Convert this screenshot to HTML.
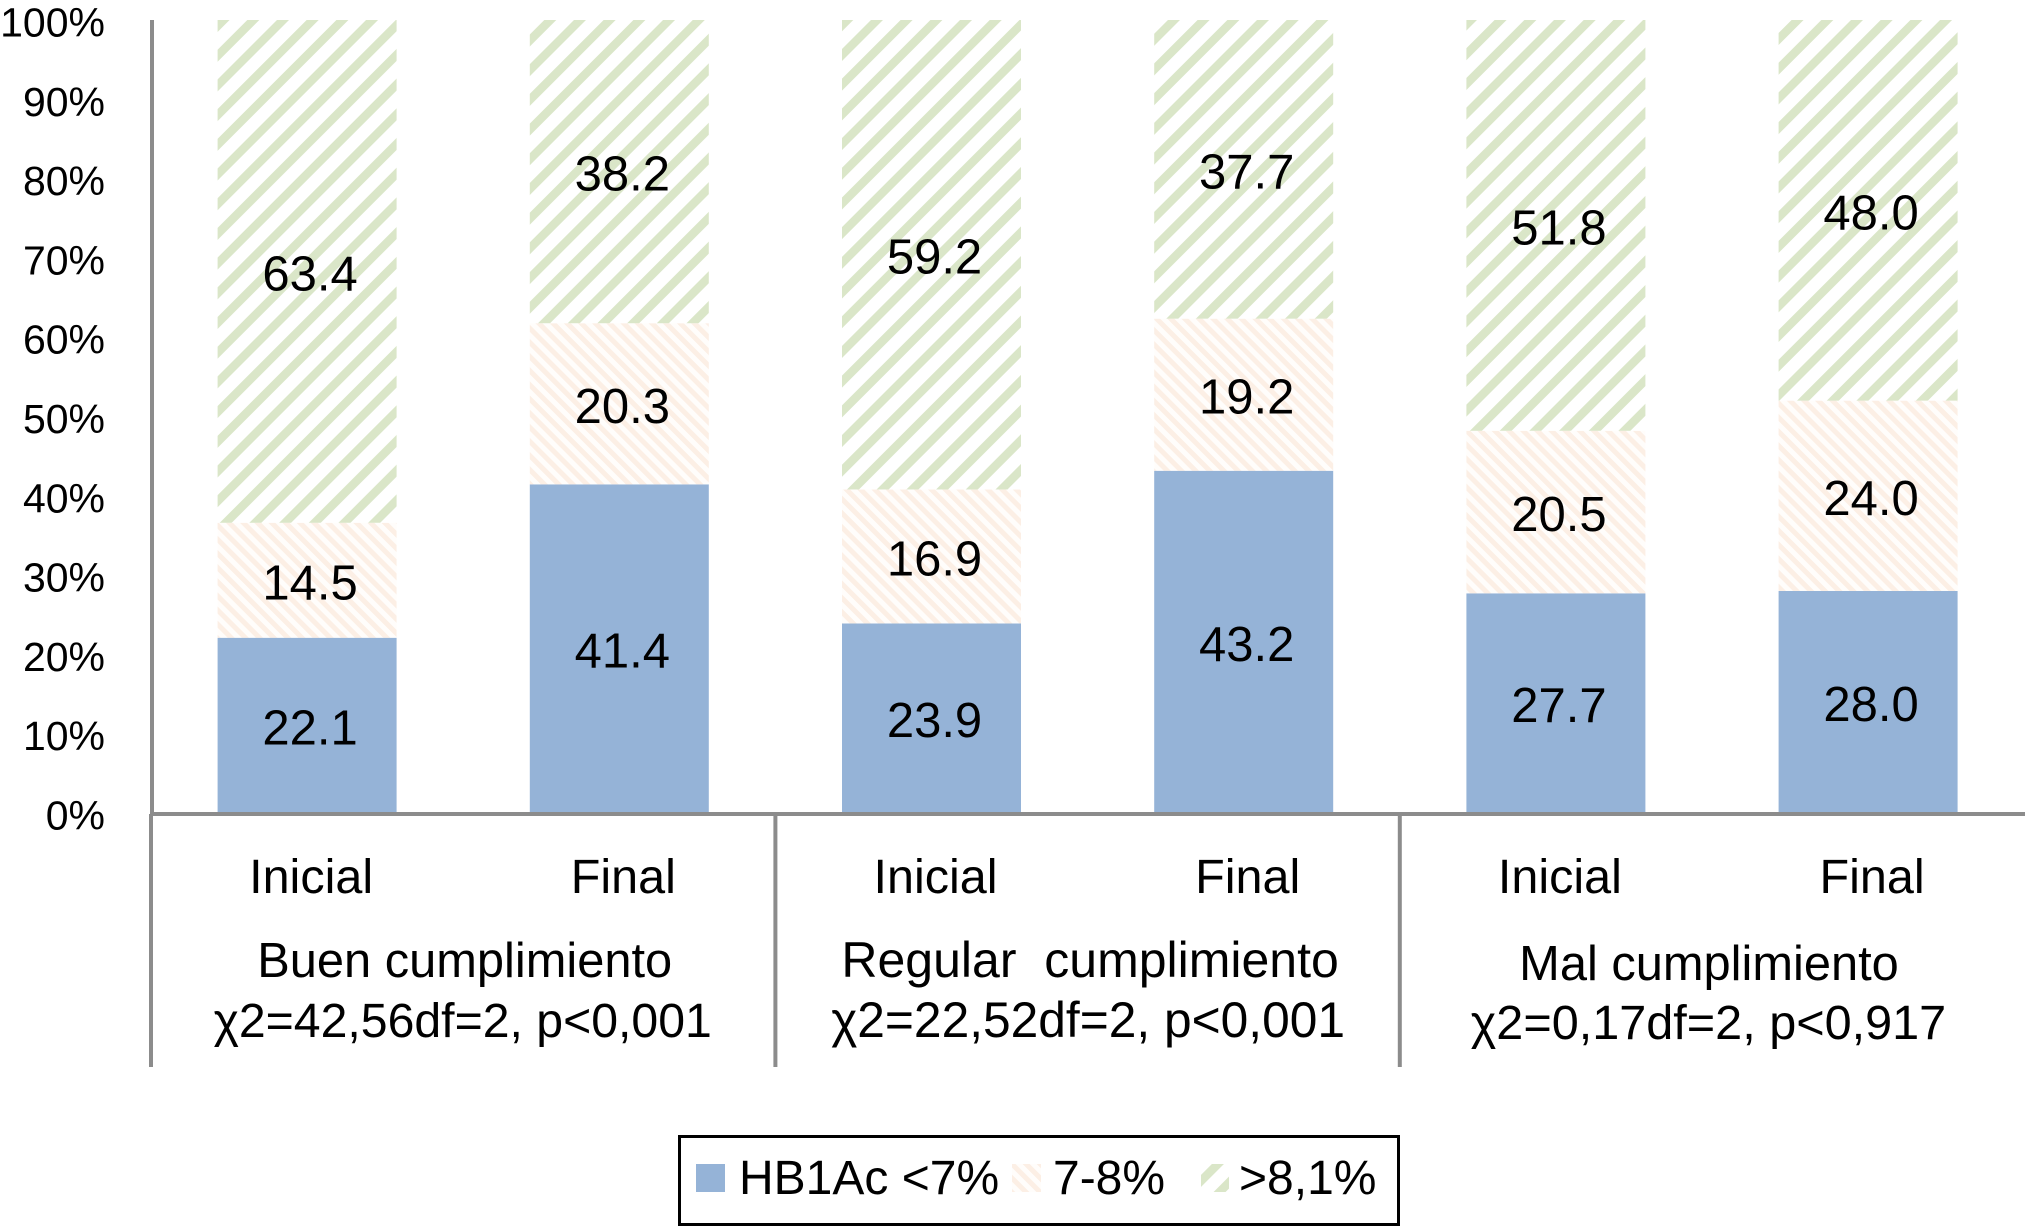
<!DOCTYPE html>
<html lang="es">
<head>
<meta charset="utf-8">
<title>HbA1c por cumplimiento</title>
<style>
html,body{margin:0;padding:0;background:#fff;width:2025px;height:1227px;overflow:hidden}
svg{display:block}
text{font-family:"Liberation Sans",Arial,sans-serif;fill:#000}
</style>
</head>
<body>
<svg id="chart" xmlns="http://www.w3.org/2000/svg" width="2025" height="1227" viewBox="0 0 2025 1227">
  <defs>
    <pattern id="hatch-green" patternUnits="userSpaceOnUse" width="21" height="21" patternTransform="rotate(45)">
      <rect width="21" height="21" fill="#ffffff"/>
      <rect x="0" y="0" width="8.5" height="21" fill="#dae6c8"/>
    </pattern>
    <pattern id="hatch-orange" patternUnits="userSpaceOnUse" width="10" height="10" patternTransform="rotate(-45)">
      <rect width="10" height="10" fill="#fffdfb"/>
      <rect x="0" y="0" width="5" height="10" fill="#fcefe5"/>
    </pattern>
  </defs>
  <g id="bars"></g>
  <g id="axes"></g>
  <g id="labels"></g>
  <g>
    <rect x="679.5" y="1136.5" width="719" height="88" fill="#fff" stroke="#000" stroke-width="3"/>
    <rect x="696" y="1164" width="29" height="28" fill="#95b3d7"/>
    <text x="739" y="1194" font-size="48">HB1Ac &lt;7%</text>
    <rect x="1012" y="1164" width="29" height="28" fill="url(#hatch-orange)"/>
    <text x="1053" y="1194" font-size="48">7-8%</text>
    <rect x="1201" y="1164" width="28" height="28" fill="url(#hatch-green)"/>
    <text x="1239" y="1194" font-size="48">&gt;8,1%</text>
  </g>
</svg>
<script>
var categories = ['Inicial', 'Final', 'Inicial', 'Final', 'Inicial', 'Final'];
var seriesLow = [22.1, 41.4, 23.9, 43.2, 27.7, 28.0];
var seriesMid = [14.5, 20.3, 16.9, 19.2, 20.5, 24.0];
var seriesHigh = [63.4, 38.2, 59.2, 37.7, 51.8, 48.0];
var yTicks = [0, 10, 20, 30, 40, 50, 60, 70, 80, 90, 100];
var groupNames = ['Buen cumplimiento', 'Regular\u00a0 cumplimiento', 'Mal cumplimiento'];
var groupStats = ['\u03c72=42,56df=2, p<0,001', '\u03c72=22,52df=2, p<0,001', '\u03c72=0,17df=2, p<0,917'];

var NS = 'http://www.w3.org/2000/svg';
var PLOT_LEFT = 150.5, BAND = 312.2, BAR_W = 179;
var Y_TOP = 20, Y_BASE = 813;
var barsG = document.getElementById('bars');
var axesG = document.getElementById('axes');
var labelsG = document.getElementById('labels');

function yScale(v) { return Y_BASE - (v / 100) * (Y_BASE - Y_TOP); }
function xBand(i) { return PLOT_LEFT + BAND * (i + 0.5); }
function make(tag, parent, attrs) {
  var el = document.createElementNS(NS, tag);
  for (var k in attrs) el.setAttribute(k, attrs[k]);
  parent.appendChild(el);
  return el;
}
function addText(parent, x, y, size, anchor, str) {
  var t = make('text', parent, { x: x, y: y, 'font-size': size, 'text-anchor': anchor });
  t.textContent = str;
  return t;
}

var seriesList = [
  { key: 'low', values: seriesLow, fill: '#95b3d7' },
  { key: 'mid', values: seriesMid, fill: 'url(#hatch-orange)' },
  { key: 'high', values: seriesHigh, fill: 'url(#hatch-green)' }
];

categories.forEach(function (cat, i) {
  var total = seriesLow[i] + seriesMid[i] + seriesHigh[i];
  var cum = 0;
  seriesList.forEach(function (s) {
    var v = s.values[i];
    var share = v / total * 100;
    var y0 = yScale(cum), y1 = yScale(cum + share);
    var r = make('rect', barsG, { x: xBand(i) - BAR_W / 2 + 0.5, y: y1, width: BAR_W, height: y0 - y1, fill: s.fill });
    
    
    var t = addText(labelsG, xBand(i) + 3.5, (y0 + y1) / 2 + 19, 49, 'middle', v.toFixed(1));
    
    
    cum += share;
  });
  var c = addText(labelsG, xBand(i) + 4.5, 893, 48.5, 'middle', cat);
  
  
});

yTicks.forEach(function (v) {
  var t = addText(labelsG, 105, yScale(v) + 16.5, 41, 'end', v + '%');
  
  
});

groupNames.forEach(function (name, g) {
  var cx = PLOT_LEFT + BAND * (2 * g + 1);
  var a = addText(labelsG, cx + [2, 3, -2.5][g], g === 2 ? 980 : 977, [48.8, 50, 48.8][g], 'middle', name);
  
  
  var b = addText(labelsG, cx + [0, 1, -3][g], g === 2 ? 1039 : 1037, [48.2, 49.7, 48.6][g], 'middle', groupStats[g]);
  
  
  var sep = make('line', axesG, { x1: PLOT_LEFT + 2 * BAND * g + 0.5, x2: PLOT_LEFT + 2 * BAND * g + 0.5, y1: 814, y2: 1067, stroke: '#8c8c8c', 'stroke-width': 4 });
  
  
});

var yAxis = make('line', axesG, { x1: 152, x2: 152, y1: Y_TOP, y2: Y_BASE, stroke: '#8c8c8c', 'stroke-width': 4 });


var xAxis = make('line', axesG, { x1: 150, x2: 2025, y1: 814, y2: 814, stroke: '#8c8c8c', 'stroke-width': 4 });


</script>
</body>
</html>
